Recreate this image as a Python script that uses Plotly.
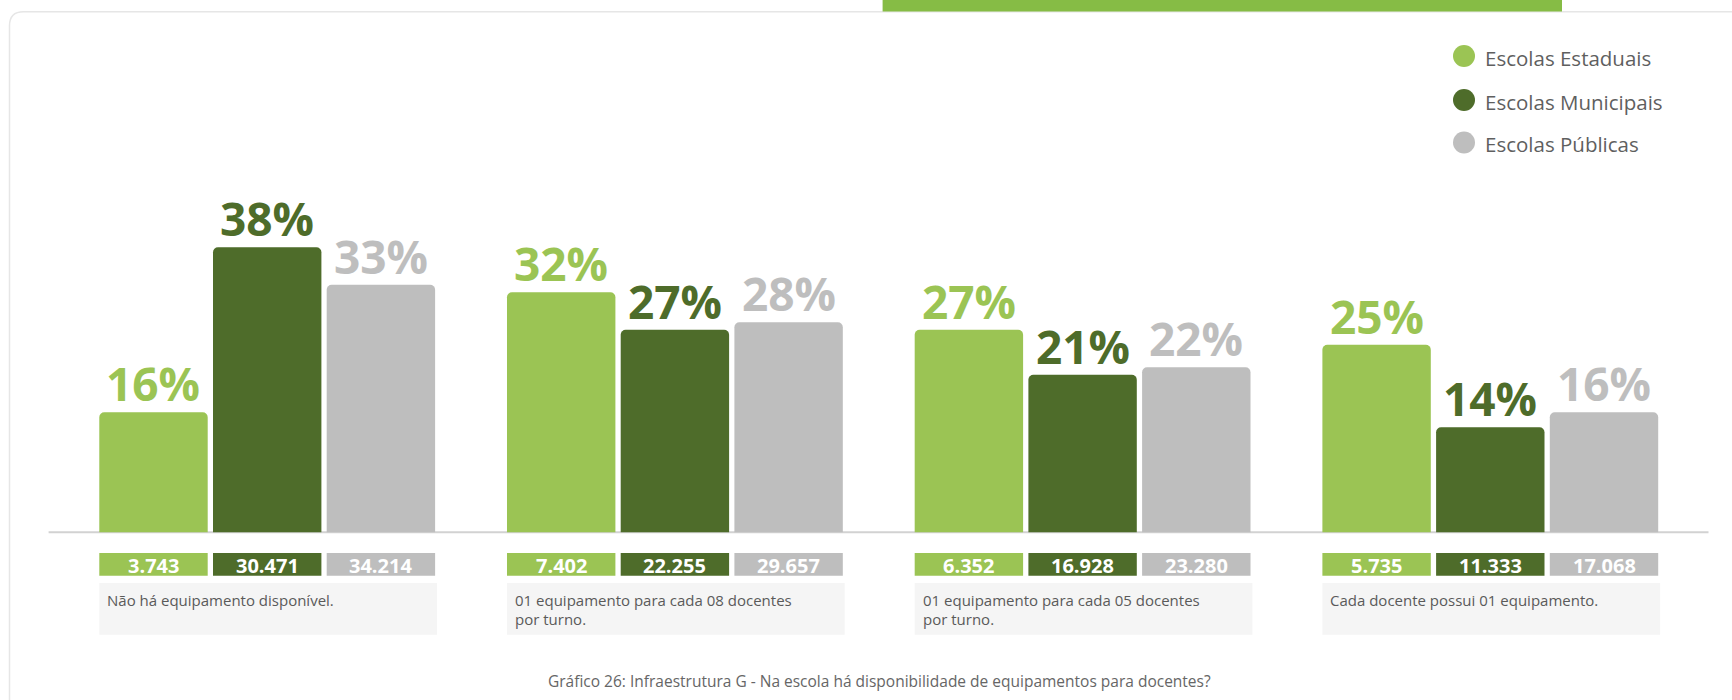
import plotly.graph_objects as go

# ---------------- data ----------------
categories = [
    "Não há equipamento disponível.",
    "01 equipamento para cada 08 docentes\npor turno.",
    "01 equipamento para cada 05 docentes\npor turno.",
    "Cada docente possui 01 equipamento.",
]
series_names = ["Escolas Estaduais", "Escolas Municipais", "Escolas Públicas"]
pct_estaduais = [16, 32, 27, 25]
pct_municipais = [38, 27, 21, 14]
pct_publicas = [33, 28, 22, 16]
n_estaduais = ["3.743", "7.402", "6.352", "5.735"]
n_municipais = ["30.471", "22.255", "16.928", "11.333"]
n_publicas = ["34.214", "29.657", "23.280", "17.068"]
caption = "Gráfico 26: Infraestrutura G - Na escola há disponibilidade de equipamentos para docentes?"

colors = ["#9bc454", "#4e6c2a", "#bebebe"]
pcts = [pct_estaduais, pct_municipais, pct_publicas]
counts = [n_estaduais, n_municipais, n_publicas]

# ---------------- geometry / style ----------------
W, H = 1732, 700
FONT = "Open Sans, Noto Sans, sans-serif"
PXX = 407.7          # px per category
X0 = 267.2           # px of first category centre
Y0 = 532.3           # px of zero line
PXY = 7.5            # px per percent
BAR_W = 0.2659
SLOT = 0.2789
offsets = [-SLOT - BAR_W / 2, -BAR_W / 2, SLOT - BAR_W / 2]

def py2y(py):
    return -(py - Y0) / PXY

def px_(px):
    return px / W

def py_(py):
    return 1 - py / H

CELL_TOP, CELL_BOT = 553.0, 575.7
LBL_TOP, LBL_BOT = 583.0, 634.7
LBL_W = 337.7 / PXX

x = list(range(len(categories)))
fig = go.Figure()

# label boxes
fig.add_trace(go.Bar(
    x=x, y=[py2y(LBL_TOP) - py2y(LBL_BOT)] * len(x), base=py2y(LBL_BOT),
    width=LBL_W, offset=offsets[0], marker=dict(color="#f5f5f5", line_width=0),
    hoverinfo="skip", showlegend=False))

for s in range(3):
    # main bars
    fig.add_trace(go.Bar(
        x=x, y=pcts[s], width=BAR_W, offset=offsets[s], name=series_names[s],
        marker=dict(color=colors[s], line_width=0, cornerradius=5),
        showlegend=False))
    # count cells
    fig.add_trace(go.Bar(
        x=x, y=[py2y(CELL_TOP) - py2y(CELL_BOT)] * len(x), base=py2y(CELL_BOT),
        width=BAR_W, offset=offsets[s],
        marker=dict(color=colors[s], line_width=0),
        hoverinfo="skip", showlegend=False))

annotations = []
for s in range(3):
    for i in x:
        cx = i + offsets[s] + BAR_W / 2
        annotations.append(dict(
            x=cx, y=pcts[s][i], xref="x", yref="y", text=f"{pcts[s][i]}%",
            showarrow=False, xanchor="center", yanchor="bottom", yshift=-4,
            font=dict(family=FONT, size=46, color=colors[s], weight=700)))
        annotations.append(dict(
            x=cx, y=(py2y(CELL_TOP) + py2y(CELL_BOT)) / 2, xref="x", yref="y",
            text=counts[s][i], showarrow=False, xanchor="center", yanchor="middle",
            yshift=-1.5,
            font=dict(family=FONT, size=20, color="#ffffff", weight=700)))

for i, lab in enumerate(categories):
    for k, line in enumerate(lab.split("\n")):
        annotations.append(dict(
            x=i + offsets[0], y=py_(600.3 + k * 18.8), xref="x", yref="paper",
            text=line, showarrow=False, xanchor="left", yanchor="middle", xshift=6,
            font=dict(family=FONT, size=15, color="#5a5a5a")))

# legend
legend_y = [56, 100, 142.5]
shapes = []
for s in range(3):
    cy = legend_y[s]
    shapes.append(dict(type="circle", xref="paper", yref="paper",
                       x0=px_(1464 - 11), x1=px_(1464 + 11),
                       y0=py_(cy + 11), y1=py_(cy - 11),
                       fillcolor=colors[s], line_width=0))
    annotations.append(dict(
        x=px_(1483), y=py_(cy + 1.5), xref="paper", yref="paper",
        text=series_names[s], showarrow=False, xanchor="left", yanchor="middle",
        font=dict(family=FONT, size=20.5, color="#5f5f5f")))

annotations.append(dict(
    x=px_(879), y=py_(681), xref="paper", yref="paper", text=caption,
    showarrow=False, xanchor="center", yanchor="middle",
    font=dict(family=FONT, size=15.5, color="#666666")))

# baseline
shapes.append(dict(type="line", xref="paper", yref="y",
                   x0=px_(48.6), x1=px_(1708.5), y0=0, y1=0,
                   line=dict(color="#d2d2d2", width=2), layer="below"))
# card border
r = 14
bx, by = 9.5, 11.7
path = (f"M {px_(bx)},{py_(H)} L {px_(bx)},{py_(by + r)} "
        f"Q {px_(bx)},{py_(by)} {px_(bx + r)},{py_(by)} L {px_(W)},{py_(by)}")
shapes.append(dict(type="path", xref="paper", yref="paper", path=path,
                   line=dict(color="#e6e6e6", width=1.5), layer="below"))
# green strip at top
shapes.append(dict(type="rect", xref="paper", yref="paper",
                   x0=px_(882.6), x1=px_(1562), y0=py_(0), y1=py_(11.5),
                   fillcolor="#86bc45", line_width=0))

fig.update_layout(
    width=W, height=H, margin=dict(l=0, r=0, t=0, b=0, pad=0),
    barmode="overlay", paper_bgcolor="#ffffff", plot_bgcolor="#ffffff",
    xaxis=dict(range=[-X0 / PXX, (W - X0) / PXX], visible=False, fixedrange=True),
    yaxis=dict(range=[py2y(H), py2y(0)], visible=False, fixedrange=True),
    annotations=annotations, shapes=shapes, showlegend=False,
)

fig.write_html("out.html")
